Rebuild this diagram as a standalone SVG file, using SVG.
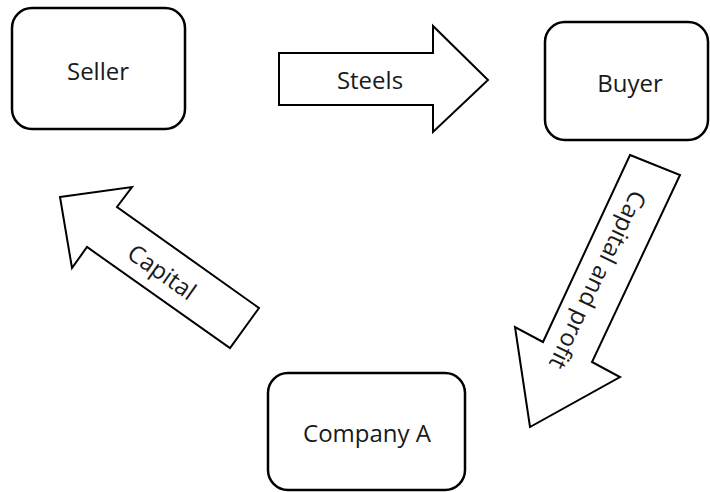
<svg xmlns="http://www.w3.org/2000/svg" width="710" height="492" viewBox="0 0 710 492">
<style>
.box{fill:#fff;stroke:#000;stroke-width:2.5}
.arr{fill:#fff;stroke:#000;stroke-width:2;stroke-linejoin:miter}
.t{font-family:"Open Sans",sans-serif;font-size:24px;fill:#1a1a1a;text-anchor:middle}
</style>
<rect width="710" height="492" fill="#fff"/>
<g id="seller">
<rect class="box" x="12" y="8" width="173" height="121" rx="20"/>
<text class="t" x="98" y="80">Seller</text>
</g>
<g id="buyer">
<rect class="box" x="545" y="22" width="163" height="118" rx="20"/>
<text class="t" x="630" y="92">Buyer</text>
</g>
<g id="companyA">
<rect class="box" x="268" y="373" width="197" height="117" rx="20"/>
<text class="t" x="367" y="442">Company A</text>
</g>
<g id="connectors">
<g id="steels">
<polygon class="arr" points="279,53 433,53 433,26 488,80 433,132 433,105 279,105"/>
<text class="t" x="370" y="89">Steels</text>
</g>
<g id="capital-and-profit">
<polygon class="arr" points="630,155 680,175 592,362 620,377 530,427 515,327 543,342"/>
<text class="t" transform="translate(598,280) rotate(115.5)" x="0" y="8.5">Capital and profit</text>
</g>
<g id="capital">
<polygon class="arr" points="60,197 132,187 117,207 259,308 230,348 87,247 72,268"/>
<text class="t" transform="translate(162,272) rotate(35.3)" x="0" y="8.5">Capital</text>
</g>
</g>
</svg>
